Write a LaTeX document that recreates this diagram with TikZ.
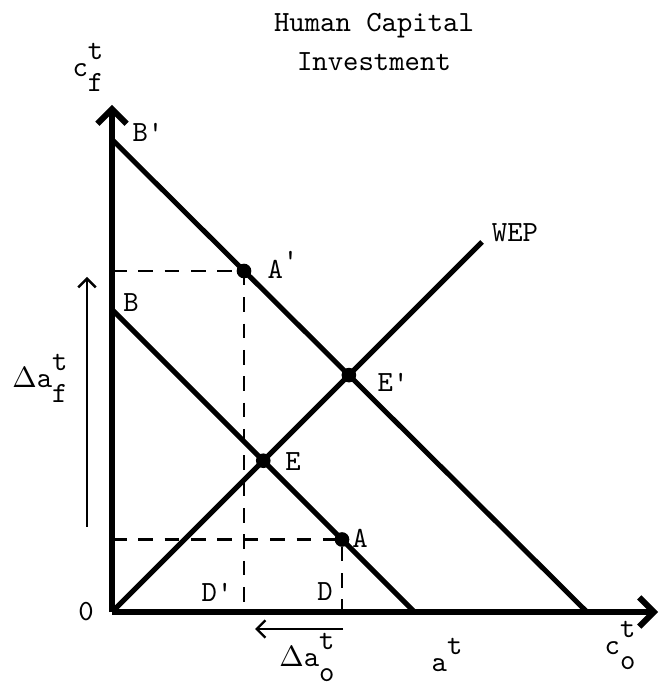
\documentclass[tikz,border=0pt]{standalone}
\usepackage{xcolor}
\usepackage{tikz}
\usetikzlibrary{arrows.meta}

\newcommand{\supsub}[3]{#1\renewcommand{\arraystretch}{0.9}\begin{tabular}{@{}l@{}}#2\\#3\end{tabular}}

\begin{document}
\begin{tikzpicture}[
  x=6mm, y=6mm,
  every node/.style={font=\ttfamily\normalsize, inner sep=1pt},
  axis/.style={line width=2pt, -{Straight Barb[length=5pt, width=10pt]}},
  budget/.style={line width=1.7pt},
  guide/.style={line width=0.7pt, dash pattern=on 5pt off 4pt},
  change/.style={line width=0.8pt, -{Straight Barb[length=3pt, width=6pt]}},
  dot/.style={circle, fill, inner sep=0pt, minimum size=5pt}
]
\useasboundingbox (-2.24,-1.5) rectangle (11.06,12.24);

\coordinate (O) at (0,0);
\coordinate (ytip) at (0,10.14);
\coordinate (xtip) at (10.92,0);
\coordinate (Bp) at (0,9.45);
\coordinate (Cp) at (9.5,0);
\coordinate (B) at (0,6.05);
\coordinate (C) at (6.05,0);
\coordinate (W) at (7.4,7.4);
\coordinate (Ap) at (2.64,6.82);
\coordinate (A) at (4.6,1.45);
\coordinate (E) at (intersection of O--W and B--C);
\coordinate (Ep) at (intersection of O--W and Bp--Cp);
\coordinate (fl) at (-0.5,1.7);
\coordinate (fh) at (-0.5,6.7);
\coordinate (ol) at (4.62,-0.34);
\coordinate (oh) at (2.86,-0.34);

\draw[guide] (Ap -| O) -- (Ap) -- (Ap |- O);
\draw[guide] (A -| O) -- (A) -- (A |- O);

\draw[budget] (Bp) -- (Cp);
\draw[budget] (B) -- (C);
\draw[budget] (O) -- (W);
\draw[axis] (O) -- (ytip);
\draw[axis] (O) -- (xtip);
\draw[change] (fl) -- (fh);
\draw[change] (ol) -- (oh);

\node[dot] (dAp) at (Ap) {};
\node[dot] (dA) at (A) {};
\node[dot] (dE) at (E) {};
\node[dot] (dEp) at (Ep) {};

\node[align=center] (title) at (5.24,11.4) {Human Capital\\[1.6pt]Investment};
\node (cf) at (-0.48,10.86) {\supsub{c}{t}{f}};
\node (lBp) at (0.72,9.6) {B'};
\node (lB) at (0.38,6.18) {B};
\node (lAp) at (3.42,6.94) {A\raisebox{0.7ex}{'}};
\node (lWEP) at (8.06,7.58) {WEP};
\node (lEp) at (5.62,4.6) {E'};
\node (lE) at (3.62,3.0) {E};
\node (daf) at (-1.44,4.64) {\supsub{$\Delta$a}{t}{f}};
\node (lA) at (4.96,1.48) {A};
\node (lDp) at (2.1,0.4) {D'};
\node (lD) at (4.26,0.4) {D};
\node (lO) at (-0.52,0) {0};
\node (dao) at (3.9,-0.94) {\supsub{$\Delta$a}{t}{o}};
\node (at) at (6.7,-0.86) {a\raisebox{6pt}{t}};
\node (co) at (10.16,-0.7) {\supsub{c}{t}{o}};
\end{tikzpicture}
\end{document}
